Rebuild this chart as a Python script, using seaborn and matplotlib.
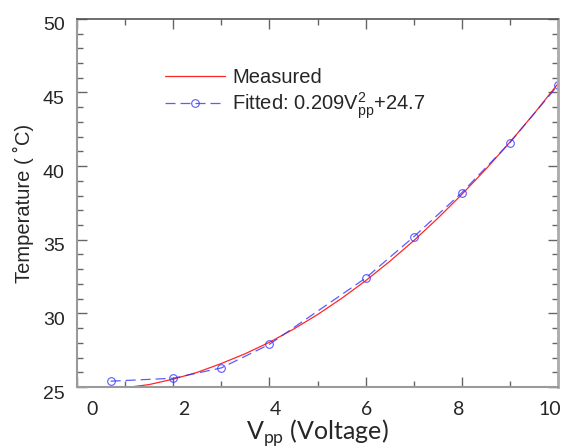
import matplotlib
matplotlib.use("Agg")
import matplotlib.pyplot as plt
import matplotlib.transforms as mtrans
import pandas as pd
import seaborn as sns
from matplotlib.ticker import MultipleLocator

# points with circles (blue dashed)
fit_v = [0.7, 2.0, 3.0, 4.0, 6.0, 7.0, 8.0, 9.0, 10.0]
fit_t = [25.4, 25.6, 26.3, 27.9, 32.4, 35.2, 38.2, 41.6, 45.5]

# smooth red curve
meas_v = [1.1, 1.5, 2.0, 2.5, 3.0, 3.5, 4.0, 4.5, 5.0, 5.5, 6.0, 6.5, 7.0, 7.5, 8.0, 8.5, 9.0, 9.5, 10.0]
meas_t = [25.0, 25.17, 25.54, 26.0, 26.6, 27.27, 28.04, 28.93, 29.92, 31.02, 32.22, 33.53, 34.94, 36.46, 38.08, 39.8, 41.63, 43.56, 45.6]

sns.set_style("ticks")
plt.rcParams['font.family'] = ['Liberation Sans', 'DejaVu Sans']
plt.rcParams['mathtext.fontset'] = 'custom'
plt.rcParams['mathtext.rm'] = 'Liberation Sans'
plt.rcParams['mathtext.it'] = 'Liberation Sans'

df_fit = pd.DataFrame({'V': fit_v, 'T': fit_t})
df_meas = pd.DataFrame({'V': meas_v, 'T': meas_t})

fig = plt.figure(figsize=(5.62, 4.48), dpi=100)
ax = fig.add_axes([0.137, 0.136, 0.856, 0.822])

sns.lineplot(data=df_meas, x='V', y='T', ax=ax, color='#ff0000', lw=0.9,
             label='Measured', alpha=0.85)
sns.lineplot(data=df_fit, x='V', y='T', ax=ax, color='#3333ff', lw=0.9,
             linestyle=(0, (8, 4)), marker='o', markersize=5.5,
             markerfacecolor='none', markeredgecolor='#3333ff', markeredgewidth=0.8,
             label='Fitted: 0.209V$_{\\mathregular{pp}}^{\\mathregular{2}}$+24.7', alpha=0.8)

ax.set_xlim(0, 10)
ax.set_ylim(25, 50)
ax.xaxis.set_major_locator(MultipleLocator(2))
ax.xaxis.set_minor_locator(MultipleLocator(1))
ax.yaxis.set_major_locator(MultipleLocator(5))
ax.yaxis.set_minor_locator(MultipleLocator(1))
ax.tick_params(which='both', direction='in', top=True, right=True, color='#666666', width=1)
ax.tick_params(which='major', length=7)
ax.tick_params(which='minor', length=4.5)
ax.tick_params(axis='y', labelsize=14, pad=9)
ax.tick_params(axis='x', labelsize=14, pad=10)

# x labels in the original sit a bit off their ticks (spread between 0.3 and 9.8)
fig.canvas.draw()
for lab in ax.get_xticklabels():
    lab.set_family('Lato')
    v = lab.get_position()[0]
    dx = (15 - 2.3 * v) / 100
    lab.set_transform(lab.get_transform() + mtrans.ScaledTranslation(dx, 0, fig.dpi_scale_trans))
for lab in ax.get_yticklabels():
    lab.set_transform(lab.get_transform() + mtrans.ScaledTranslation(0, -0.05, fig.dpi_scale_trans))

for side in ['left', 'bottom']:
    ax.spines[side].set_color('#9a9a9a')
    ax.spines[side].set_linewidth(1.5)
ax.spines['top'].set_color('#555555')
ax.spines['top'].set_linewidth(1.2)
ax.spines['right'].set_color('#aaaaaa')
ax.spines['right'].set_linewidth(2)

ax.set_ylabel('Temperature ( \u02daC)', fontsize=14.5, labelpad=6)
ax.set_xlabel('V$_{\\mathregular{pp}}$ (Voltage)', fontsize=18, family='Lato', labelpad=0)

leg = ax.legend(loc='upper left', bbox_to_anchor=(0.145, 0.915), frameon=False,
                fontsize=14.5, handlelength=3.0, handletextpad=0.35, labelspacing=0.15)

fig.savefig('out.png', dpi=100)
